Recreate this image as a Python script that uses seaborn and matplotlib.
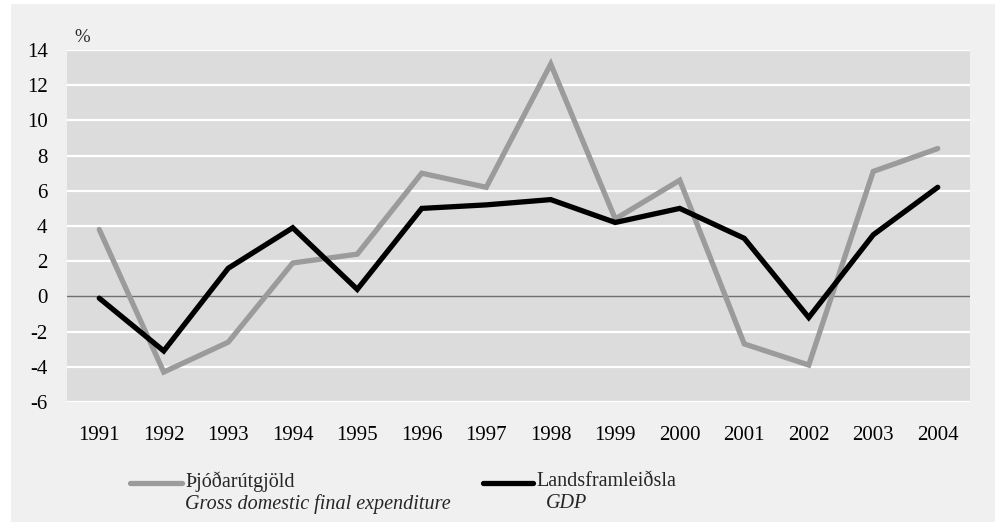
import seaborn as sns
import matplotlib.pyplot as plt
import matplotlib.patches as mpatches
from matplotlib.lines import Line2D
import pandas as pd

# Annual change, %
years = [1991, 1992, 1993, 1994, 1995, 1996, 1997, 1998, 1999, 2000, 2001, 2002, 2003, 2004]
expenditure = [3.8, -4.3, -2.6, 1.9, 2.4, 7.0, 6.2, 13.2, 4.4, 6.6, -2.7, -3.9, 7.1, 8.4]
gdp = [-0.1, -3.1, 1.6, 3.9, 0.4, 5.0, 5.2, 5.5, 4.2, 5.0, 3.3, -1.2, 3.5, 6.2]
series_names = ['Þjóðarútgjöld', 'Landsframleiðsla']
series_en = ['Gross domestic final expenditure', 'GDP']
yticks = list(range(-6, 15, 2))

df = pd.DataFrame({
    'pos': list(range(len(years))) * 2,
    'value': expenditure + gdp,
    'series': [series_names[0]] * len(years) + [series_names[1]] * len(years),
})

sns.set_style('white')
plt.rcParams['font.family'] = ['Liberation Serif', 'DejaVu Serif']

fig = plt.figure(figsize=(9.99, 5.27), dpi=100, facecolor='white')
# light grey frame behind everything
fig.patches.append(mpatches.Rectangle((11 / 999, 5 / 527), 984 / 999, 518 / 527,
                                      transform=fig.transFigure, facecolor='#f0f0f0',
                                      edgecolor='none', zorder=-10))

ax = fig.add_axes([67 / 999, 125 / 527, 903 / 999, 352 / 527])
ax.set_zorder(1)
ax.set_facecolor('#dcdcdc')

palette = {series_names[0]: '#9b9b9b', series_names[1]: '#000000'}
sns.lineplot(data=df, x='pos', y='value', hue='series', palette=palette,
             linewidth=3.8, ax=ax, legend=False, zorder=3)
for ln in ax.lines:
    ln.set_solid_capstyle('round')
    ln.set_solid_joinstyle('miter')

ax.set_ylim(-6, 14)
ax.set_xlim(-0.5, len(years) - 0.5)
ax.set_yticks(yticks)
ax.set_yticklabels([str(v) for v in yticks])
ax.set_xticks(range(len(years)))
ax.set_xticklabels([str(y) for y in years])
ax.tick_params(axis='both', length=0, labelsize=15, colors='black')
ax.tick_params(axis='y', pad=14)
ax.tick_params(axis='x', pad=17)
for t in yticks:
    if t != 0:
        ax.axhline(t, color='white', linewidth=1.6, zorder=1)
ax.axhline(0, color='#707070', linewidth=1.0, zorder=2)
for s in ax.spines.values():
    s.set_visible(False)
ax.set_xlabel('')
ax.set_ylabel('')

fig.text(74 / 999, 1 - 38 / 527, '%', fontsize=13.5, va='center', ha='left')

# legend drawn by hand (two-line labels)
leg = [(130, 182, 185, 185), (483, 533, 536, 546)]
for (x0, x1, tx, tx2), name, en in zip(leg, series_names, series_en):
    fig.add_artist(Line2D([x0 / 999, x1 / 999], [1 - 483 / 527] * 2,
                          transform=fig.transFigure, color=palette[name],
                          linewidth=3.8, solid_capstyle='round'))
    fig.text(tx / 999, 1 - 482 / 527, name, fontsize=14.5, va='center', ha='left')
    fig.text(tx2 / 999, 1 - 504 / 527, en,
             fontsize=14.5, style='italic', va='center', ha='left')

fig.savefig('out.png', dpi=100, facecolor='white')
plt.close(fig)
